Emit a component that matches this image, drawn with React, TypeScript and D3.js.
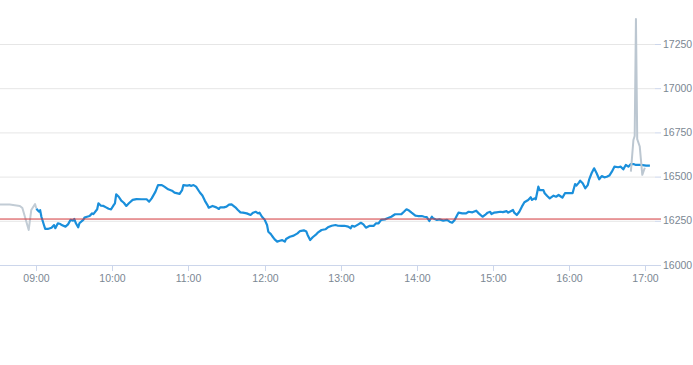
import React, { useEffect, useRef } from "react";
import * as d3 from "d3";

// intraday price
const preMarket: [string, number][] = [
  ["08:30", 16343], ["08:39", 16342], ["08:47", 16334], ["08:49", 16322],
  ["08:54", 16198], ["08:56", 16311], ["08:59", 16345], ["09:00", 16320],
];

const session: [string, number][] = [
  ["09:00", 16318], ["09:02", 16302], ["09:03", 16310], ["09:04", 16273], ["09:06", 16226],
  ["09:07", 16204], ["09:09", 16204], ["09:12", 16211], ["09:14", 16226], ["09:15", 16208],
  ["09:17", 16236], ["09:19", 16232], ["09:20", 16226], ["09:23", 16217], ["09:25", 16230],
  ["09:27", 16255], ["09:29", 16251], ["09:30", 16260], ["09:31", 16239], ["09:33", 16213],
  ["09:34", 16236], ["09:37", 16255], ["09:38", 16268], ["09:40", 16273], ["09:42", 16277],
  ["09:44", 16292], ["09:45", 16288], ["09:48", 16315], ["09:49", 16349], ["09:51", 16335],
  ["09:53", 16334], ["09:55", 16326], ["09:57", 16318], ["09:59", 16315], ["10:01", 16339],
  ["10:02", 16349], ["10:03", 16400], ["10:05", 16386], ["10:07", 16364], ["10:09", 16352],
  ["10:11", 16334], ["10:13", 16349], ["10:16", 16368], ["10:19", 16373], ["10:23", 16372],
  ["10:27", 16372], ["10:29", 16358], ["10:31", 16377], ["10:34", 16415], ["10:36", 16452],
  ["10:39", 16452], ["10:41", 16443], ["10:44", 16428], ["10:47", 16420], ["10:49", 16409],
  ["10:53", 16402], ["10:55", 16424], ["10:56", 16452], ["10:59", 16449], ["11:01", 16452],
  ["11:02", 16447], ["11:04", 16452], ["11:06", 16443], ["11:09", 16410], ["11:11", 16393],
  ["11:13", 16363], ["11:15", 16339], ["11:16", 16324], ["11:19", 16334], ["11:22", 16326],
  ["11:24", 16317], ["11:25", 16326], ["11:28", 16326], ["11:30", 16330], ["11:32", 16341],
  ["11:34", 16343], ["11:37", 16326], ["11:39", 16311], ["11:41", 16298], ["11:43", 16296],
  ["11:46", 16292], ["11:49", 16283], ["11:51", 16296], ["11:53", 16301], ["11:55", 16292],
  ["11:56", 16296], ["11:58", 16273], ["12:00", 16258], ["12:02", 16226], ["12:03", 16188],
  ["12:05", 16175], ["12:06", 16164], ["12:08", 16145], ["12:10", 16132], ["12:12", 16137],
  ["12:14", 16141], ["12:16", 16132], ["12:17", 16147], ["12:20", 16160], ["12:23", 16166],
  ["12:26", 16179], ["12:28", 16192], ["12:31", 16196], ["12:33", 16189], ["12:34", 16170],
  ["12:36", 16141], ["12:38", 16157], ["12:41", 16175], ["12:42", 16183], ["12:45", 16198],
  ["12:48", 16202], ["12:50", 16213], ["12:53", 16222], ["12:56", 16226], ["12:58", 16222],
  ["13:01", 16221], ["13:03", 16222], ["13:06", 16217], ["13:08", 16208], ["13:09", 16222],
  ["13:11", 16217], ["13:14", 16230], ["13:16", 16239], ["13:18", 16230], ["13:20", 16211],
  ["13:23", 16222], ["13:26", 16221], ["13:28", 16236], ["13:30", 16236], ["13:32", 16255],
  ["13:35", 16258], ["13:37", 16264], ["13:40", 16273], ["13:43", 16287], ["13:45", 16287],
  ["13:48", 16288], ["13:50", 16301], ["13:52", 16315], ["13:54", 16308], ["13:56", 16296],
  ["13:59", 16279], ["14:01", 16277], ["14:04", 16277], ["14:06", 16273], ["14:08", 16271],
  ["14:10", 16249], ["14:12", 16273], ["14:13", 16264], ["14:16", 16255], ["14:18", 16258],
  ["14:21", 16251], ["14:24", 16255], ["14:26", 16245], ["14:28", 16239], ["14:30", 16255],
  ["14:32", 16283], ["14:33", 16296], ["14:36", 16292], ["14:39", 16292], ["14:41", 16301],
  ["14:44", 16298], ["14:47", 16307], ["14:49", 16292], ["14:52", 16273], ["14:54", 16283],
  ["14:56", 16296], ["14:58", 16301], ["14:59", 16288], ["15:01", 16296], ["15:03", 16298],
  ["15:06", 16301], ["15:08", 16299], ["15:11", 16305], ["15:12", 16296], ["15:16", 16311],
  ["15:17", 16296], ["15:19", 16283], ["15:21", 16301], ["15:23", 16330], ["15:25", 16355],
  ["15:28", 16368], ["15:30", 16383], ["15:31", 16368], ["15:33", 16377], ["15:34", 16372],
  ["15:36", 16443], ["15:37", 16424], ["15:40", 16424], ["15:41", 16406], ["15:43", 16390],
  ["15:45", 16377], ["15:48", 16392], ["15:50", 16386], ["15:52", 16396], ["15:54", 16386],
  ["15:55", 16381], ["15:57", 16406], ["16:01", 16406], ["16:03", 16406], ["16:05", 16458],
  ["16:06", 16449], ["16:08", 16466], ["16:09", 16477], ["16:11", 16462], ["16:13", 16434],
  ["16:15", 16452], ["16:16", 16481], ["16:18", 16519], ["16:20", 16547], ["16:22", 16519],
  ["16:24", 16485], ["16:26", 16503], ["16:28", 16496], ["16:30", 16499], ["16:32", 16506],
  ["16:34", 16528], ["16:36", 16556], ["16:39", 16553], ["16:41", 16556], ["16:43", 16541],
  ["16:45", 16566], ["16:47", 16556], ["16:49", 16571], ["16:51", 16571], ["16:53", 16566],
  ["16:57", 16566], ["17:01", 16562], ["17:04", 16562],
];

const afterHours: [string, number][] = [
  ["16:49", 16528], ["16:51", 16707], ["16:52", 16730], ["16:53", 17391],
  ["16:54", 16712], ["16:56", 16670], ["16:58", 16510], ["17:00", 16550],
];

const referencePrice = 16260;
const yTicks = [16000, 16250, 16500, 16750, 17000, 17250];
const xTicks = ["09:00", "10:00", "11:00", "12:00", "13:00", "14:00", "15:00", "16:00", "17:00"];

const W = 693;
const H = 365;
const plotRight = 655;
const plotBottom = 265;

export default function App() {
  const ref = useRef<SVGSVGElement>(null);

  useEffect(() => {
    const parse = d3.timeParse("%H:%M");
    const svg = d3.select(ref.current);
    svg.selectAll("*").remove();

    const x = d3
      .scaleTime()
      .domain([parse("08:30")!, parse("17:10")!])
      .range([-1.7, 657.5]);
    const y = d3.scaleLinear().domain([16000, 17250]).range([plotBottom, 44]);

    const font = "'Liberation Sans', Arial, sans-serif";
    const labelColor = "#7b8793";

    svg
      .append("defs")
      .append("clipPath")
      .attr("id", "plotClip")
      .append("rect")
      .attr("x", 0)
      .attr("y", 0)
      .attr("width", plotRight)
      .attr("height", plotBottom + 2);

    // horizontal grid + y tick marks
    const grid = svg.append("g");
    yTicks.forEach(t => {
      grid
        .append("line")
        .attr("x1", 0)
        .attr("x2", plotRight)
        .attr("y1", y(t) + 0.5)
        .attr("y2", y(t) + 0.5)
        .attr("stroke", t === 16000 ? "#ccd6eb" : "#e6e6e6");
      grid
        .append("line")
        .attr("x1", plotRight)
        .attr("x2", plotRight + 6)
        .attr("y1", y(t) + 0.5)
        .attr("y2", y(t) + 0.5)
        .attr("stroke", "#ccd6eb");
      grid
        .append("text")
        .attr("x", 663)
        .attr("y", y(t))
        .attr("dy", "0.35em")
        .attr("fill", labelColor)
        .attr("font-family", font)
        .attr("font-size", 10.5)
        .text(t);
    });

    // x axis ticks and labels
    xTicks.forEach(s => {
      const px = Math.round(x(parse(s)!)) + 0.5;
      svg
        .append("line")
        .attr("x1", px)
        .attr("x2", px)
        .attr("y1", plotBottom)
        .attr("y2", plotBottom + 6)
        .attr("stroke", "#ccd6eb");
      svg
        .append("text")
        .attr("x", px)
        .attr("y", 282)
        .attr("text-anchor", "middle")
        .attr("fill", labelColor)
        .attr("font-family", font)
        .attr("font-size", 10.5)
        .text(s);
    });

    const line = d3
      .line<[string, number]>()
      .x(d => x(parse(d[0])!))
      .y(d => y(d[1]));

    const plot = svg.append("g").attr("clip-path", "url(#plotClip)");

    const drawLine = (data: [string, number][], color: string, width: number) =>
      plot
        .append("path")
        .attr("d", line(data))
        .attr("fill", "none")
        .attr("stroke", color)
        .attr("stroke-width", width)
        .attr("stroke-linejoin", "round");

    drawLine(preMarket, "#c2ccd5", 2);
    drawLine(session, "#1a8fdb", 2.2);
    drawLine(afterHours, "#bcc7d1", 2);

    // reference price line
    svg
      .append("line")
      .attr("x1", 0)
      .attr("x2", plotRight + 6)
      .attr("y1", y(referencePrice))
      .attr("y2", y(referencePrice))
      .attr("stroke", "#d2373a")
      .attr("stroke-width", 1);
  }, []);

  return (
    <svg
      ref={ref}
      width={W}
      height={H}
      style={{ position: "absolute", left: 0, top: 0, background: "#fff" }}
    />
  );
}
